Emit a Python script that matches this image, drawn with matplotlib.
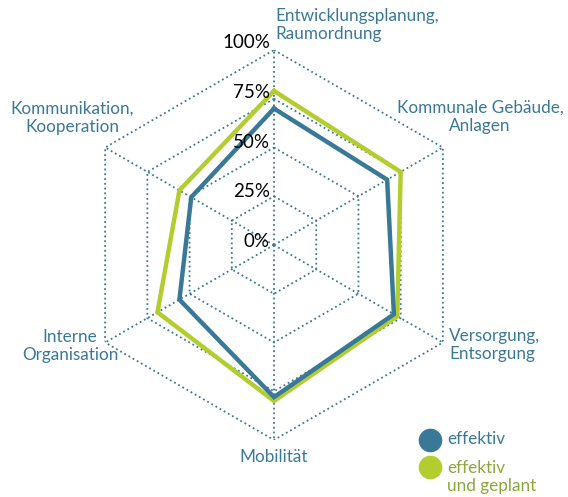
import numpy as np
import matplotlib
matplotlib.use("Agg")
import matplotlib.pyplot as plt
from matplotlib.lines import Line2D

# data (percent)
categories = ["Entwicklungsplanung,\nRaumordnung", "Kommunale Gebäude,\nAnlagen",
              "Versorgung,\nEntsorgung", "Mobilität",
              "Interne\nOrganisation", "Kommunikation,\nKooperation"]
effektiv = [70, 67, 71, 78, 56, 49]
effektiv_geplant = [79, 75, 73, 80, 69, 56]
levels = [25, 50, 75, 100]
level_labels = ["0%", "25%", "50%", "75%", "100%"]

BLUE = "#3a7898"
GREEN = "#b4cd2e"
GREEN_TXT = "#8aa83a"

plt.rcParams['font.family'] = ['Lato', 'DejaVu Sans']

fig = plt.figure(figsize=(5.68, 4.97), dpi=100)
ax = fig.add_axes([79 / 568, 57 / 497, 390 / 568, 390 / 497], projection='polar')
ax.set_theta_offset(np.pi / 2)
ax.set_theta_direction(-1)
ax.set_ylim(0, 100)
ax.grid(False)
ax.spines['polar'].set_visible(False)
ax.set_xticks([])
ax.set_yticks([])
ax.patch.set_alpha(0)

n = len(categories)
theta = np.arange(n) * 2 * np.pi / n
theta_c = np.append(theta, theta[0])

# hexagon grid + spokes
for lv in levels:
    ax.plot(theta_c, [lv] * (n + 1), color=BLUE, lw=1.3, ls=':', zorder=1)
for t in theta:
    ax.plot([t, t], [0, 100], color=BLUE, lw=1.3, ls=':', zorder=1)

# data lines
ax.plot(theta_c, effektiv_geplant + effektiv_geplant[:1], color=GREEN, lw=3.2, zorder=3,
        solid_joinstyle='miter')
ax.plot(theta_c, effektiv + effektiv[:1], color=BLUE, lw=3.2, zorder=4,
        solid_joinstyle='miter')

# radial labels, just left of the top spoke
for i, lab in enumerate(level_labels):
    ax.annotate(lab, xy=(0, 25 * i), xytext=(-4, 3.5 + i), textcoords='offset pixels',
                ha='right', va='center', fontsize=13.5, color='black', zorder=5)

# category labels (pixel positions from top-left)
lab_pos = [(275, 25, 'left'), (480, 117, 'center'), (449, 345, 'left'),
           (274, 457, 'center'), (70, 346, 'center'), (72, 118, 'center')]
for lab, (x, y, ha) in zip(categories, lab_pos):
    fig.text(x / 568, 1 - y / 497, lab, ha=ha, va='center', fontsize=12.3,
             color=BLUE, linespacing=1.15)

# legend
fig.add_artist(Line2D([430 / 568], [1 - 440 / 497], marker='o', markersize=16,
                      color=BLUE, transform=fig.transFigure))
fig.add_artist(Line2D([430 / 568], [1 - 467 / 497], marker='o', markersize=16,
                      color=GREEN, transform=fig.transFigure))
fig.text(447 / 568, 1 - 439 / 497, "effektiv", ha='left', va='center', fontsize=12.3, color=BLUE)
fig.text(447 / 568, 1 - 477 / 497, "effektiv\nund geplant", ha='left', va='center',
         fontsize=12.3, color=GREEN_TXT, linespacing=1.15)

fig.savefig("out.png", dpi=100)
